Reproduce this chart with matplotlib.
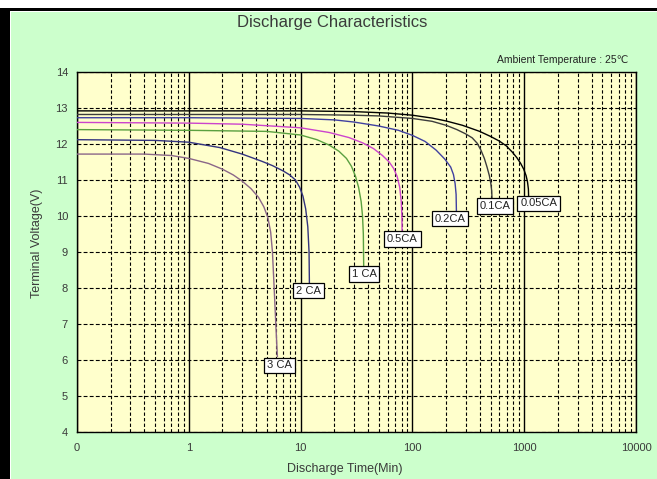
"""Discharge characteristics chart (terminal voltage vs discharge time)."""
import matplotlib
matplotlib.use("Agg")
import matplotlib.pyplot as plt
from matplotlib.ticker import FixedLocator, LogLocator, NullFormatter
from matplotlib.patches import Rectangle

plt.rcParams["font.family"] = ["Liberation Sans", "DejaVu Sans"]

GREEN, YELLOW, TXT = "#ccffcc", "#ffffcc", "#3a3a3a"

# ---- data ----
rates = ["3 CA", "2 CA", "1 CA", "0.5CA", "0.2CA", "0.1CA", "0.05CA"]

t_3ca = [0.1, 0.4, 0.7, 1.0, 1.5, 2.0, 2.5, 3.0, 3.6, 4.2, 4.7, 5.1, 5.4, 5.6, 5.8, 6.0, 6.2]
v_3ca = [11.72, 11.72, 11.68, 11.6, 11.46, 11.3, 11.14, 10.97, 10.76, 10.52, 10.25, 9.95, 9.55,
         9.0, 8.0, 7.0, 6.1]

t_2ca = [0.1, 0.5, 1.0, 1.9, 3.0, 4.5, 5.6, 7.0, 8.0, 9.0, 9.8, 10.5, 11.1, 11.6, 11.9, 12.0]
v_2ca = [12.12, 12.1, 12.05, 11.9, 11.72, 11.52, 11.4, 11.25, 11.14, 11.0, 10.8, 10.55, 10.2,
         9.7, 9.0, 8.0]

t_1ca = [0.1, 1.0, 5.0, 10, 14, 18, 22, 25.7, 28.5, 31, 33, 34.8, 35.8, 36.4, 36.7]
v_1ca = [12.4, 12.38, 12.35, 12.25, 12.12, 11.97, 11.8, 11.6, 11.38, 11.1, 10.8, 10.4, 10.0,
         9.5, 8.5]

t_05ca = [0.1, 1, 3, 10, 18, 27, 36, 45, 54, 62, 68, 73, 77, 79.5, 80.5, 81]
v_05ca = [12.6, 12.58, 12.55, 12.45, 12.32, 12.18, 12.03, 11.87, 11.68, 11.5, 11.32, 11.1, 10.8,
          10.4, 10.0, 9.4]

t_02ca = [0.1, 1, 10, 20, 30, 50, 75, 100, 130, 163, 195, 220, 233, 241, 246, 248]
v_02ca = [12.73, 12.73, 12.71, 12.67, 12.61, 12.5, 12.38, 12.24, 12.07, 11.83, 11.58, 11.36,
          11.15, 10.9, 10.6, 10.0]

t_01ca = [0.1, 10, 30, 50, 100, 150, 200, 250, 300, 343, 380, 410, 440, 465, 488, 503, 512, 518]
v_01ca = [12.82, 12.82, 12.8, 12.78, 12.71, 12.63, 12.52, 12.4, 12.28, 12.17, 12.02, 11.83, 11.6,
          11.36, 11.12, 10.9, 10.7, 10.3]

t_005ca = [0.1, 10, 30, 60, 100, 150, 200, 280, 400, 500, 600, 690, 780, 860, 930, 990, 1040,
           1070, 1090, 1100]
v_005ca = [12.92, 12.92, 12.9, 12.86, 12.8, 12.72, 12.64, 12.52, 12.35, 12.21, 12.08, 11.95,
           11.78, 11.62, 11.46, 11.3, 11.12, 10.95, 10.75, 10.35]

times = [t_3ca, t_2ca, t_1ca, t_05ca, t_02ca, t_01ca, t_005ca]
volts = [v_3ca, v_2ca, v_1ca, v_05ca, v_02ca, v_01ca, v_005ca]

# where each rate tag sits (time, voltage)
tag_t = [6.5, 11.8, 36.9, 81.5, 218, 546, 1346]
tag_v = [5.85, 7.93, 8.39, 9.36, 9.93, 10.28, 10.35]

colors = ["#8a6688", "#33337f", "#5aa040", "#cc44cc", "#4040a0", "#3c3c3c", "#000000"]

x_ticks = [0.1, 1, 10, 100, 1000, 10000]
x_ticklabels = ["0", "1", "10", "100", "1000", "10000"]
y_ticks = list(range(4, 15))

# ---- figure ----
W, H = 657, 479
fig = plt.figure(figsize=(W / 100, H / 100), dpi=100)
fig.patch.set_facecolor("white")
fig.patches.append(Rectangle((11 / W, 0), 1, 1 - 12 / H, transform=fig.transFigure,
                             facecolor=GREEN, edgecolor="none", zorder=-2))
fig.patches.append(Rectangle((0, 1 - 11 / H), 1, 3 / H, transform=fig.transFigure,
                             facecolor="black", edgecolor="none", zorder=-1))
fig.patches.append(Rectangle((0, 0), 10 / W, 1 - 8 / H, transform=fig.transFigure,
                             facecolor="black", edgecolor="none", zorder=-1))

ax = fig.add_axes([77 / W, 47 / H, 559 / W, 360 / H])
ax.set_facecolor(YELLOW)
ax.set_xscale("log")
ax.set_xlim(0.1, 10000)
ax.set_ylim(4, 14)

for t, v, c in zip(times, volts, colors):
    ax.plot(t, v, color=c, lw=1.0, zorder=3)

for name, x, y in zip(rates, tag_t, tag_v):
    ax.text(x, y, name, ha="center", va="center", fontsize=8, color="#222222", zorder=5,
            bbox=dict(boxstyle="square,pad=0.25", facecolor="white", edgecolor="black", lw=0.9))

ax.xaxis.set_major_locator(FixedLocator(x_ticks))
ax.set_xticklabels(x_ticklabels)
ax.xaxis.set_minor_locator(LogLocator(base=10, subs=range(2, 10), numticks=20))
ax.xaxis.set_minor_formatter(NullFormatter())
ax.set_yticks(y_ticks)

ax.xaxis.grid(True, which="major", color="black", lw=1.0, ls="-")
ax.xaxis.grid(True, which="minor", color="black", lw=0.8, ls=(0, (3, 2)))
ax.yaxis.grid(True, which="major", color="black", lw=0.8, ls=(0, (3.5, 2)))
ax.set_axisbelow(True)
for s in ax.spines.values():
    s.set_color("black")
    s.set_linewidth(1.0)
ax.tick_params(which="both", length=0, labelsize=8, labelcolor=TXT)
ax.tick_params(axis="y", pad=6.5)
ax.tick_params(axis="x", pad=8)

fig.text(332 / W, 1 - 22 / H, "Discharge Characteristics", ha="center", va="center",
         fontsize=12, color=TXT)
fig.text(628 / W, 1 - 60 / H, "Ambient Temperature : 25\u2103", ha="right", va="center",
         fontsize=7.5, color="#222222")
fig.text(345 / W, 1 - 469 / H, "Discharge Time(Min)", ha="center", va="center",
         fontsize=9, color=TXT)
fig.text(37 / W, 1 - 243 / H, "Terminal Voltage(V)", ha="center", va="center",
         rotation=90, fontsize=9, color=TXT)

fig.savefig("out.png", dpi=100)
